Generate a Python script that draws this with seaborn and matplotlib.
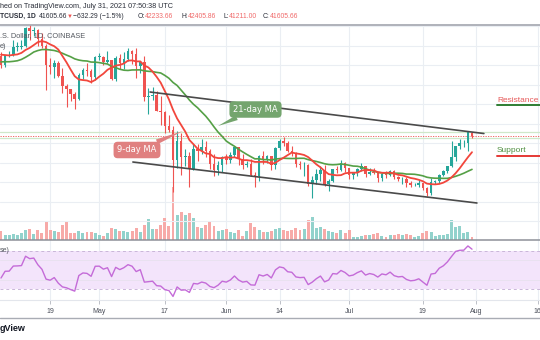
import numpy as np
import pandas as pd
import matplotlib
matplotlib.use("Agg")
import matplotlib.pyplot as plt
import matplotlib.dates as mdates
from matplotlib.lines import Line2D
import seaborn as sns

# ---------------- data (BTC/USD daily, Coinbase) ----------------
start_date = "2021-04-07"
opens = [58000, 56000, 58050, 58100, 59800, 59850, 59950, 63600, 62950, 63200, 61400, 60000,
         56150, 55650, 56450, 53800, 51700, 51150, 50050, 49050, 54000, 55050, 54850, 53550,
         57750, 57800, 56600, 57200, 53250, 57500, 56400, 57350, 58900, 58250, 55850, 56700,
         49500, 49700, 49900, 46750, 46450, 43550, 42850, 36700, 40600, 37300, 37450, 34700,
         38800, 38350, 39250, 38450, 35700, 34650, 35650,
         37300, 36700, 37550, 39200, 36850, 35520, 35800, 33550, 33400, 37400, 36700, 37350,
         35550, 39050, 40550, 40150, 38350, 38100, 35850, 35500, 35600, 31650, 32500, 33700,
         34650, 31600, 32250, 34700, 34500, 35900,
         35050, 33550, 33850, 34700, 35300, 33700, 34200, 33850, 32900, 33800, 33500, 34250,
         33100, 32700, 32800, 31850, 31400, 31500, 31800, 30850, 29800, 32150, 32300, 33600,
         34250, 35400, 37250, 39450, 40000, 40050, 42233.66]
highs = [58650, 58150, 58900, 61250, 60700, 61200, 63800, 64900, 63800, 63500, 62550, 60400,
         57500, 57100, 56800, 55450, 52150, 51200, 50550, 54400, 55500, 56400, 55200, 58000,
         58450, 57950, 58950, 57200, 57900, 58350, 58650, 59500, 59250, 59600, 56900, 58000,
         51350, 51550, 50700, 49800, 46550, 45800, 43550, 42550, 42200, 38850, 38300, 39900,
         39850, 40850, 40400, 38850, 37900, 36450, 37500,
         37900, 38250, 39500, 39300, 37900, 36450, 36800, 34050, 37550, 38400, 37700, 37450,
         39350, 41000, 41350, 40500, 39550, 38200, 36450, 36150, 35750, 33350, 34850, 35300,
         35500, 32700, 34700, 35300, 36600, 36100,
         35050, 33950, 34950, 35950, 35300, 35050, 35050, 33900, 34100, 34250, 34600, 34650,
         33350, 33100, 33200, 32250, 31950, 32450, 31900, 31050, 32850, 32600, 33650, 34500,
         35400, 40550, 39550, 40900, 40650, 42300, 42405.86]
lows = [55500, 55700, 57700, 57900, 59000, 59400, 59800, 61300, 62050, 60000, 59600, 50950,
        54200, 53400, 53600, 50400, 47500, 48800, 47000, 48850, 53300, 53900, 52350, 53050,
        57050, 56050, 56500, 53050, 52900, 55300, 55350, 56950, 56300, 53500, 54350, 48600,
        46000, 48850, 46650, 43850, 42100, 42300, 30000, 35050, 33500, 35300, 31100, 34550,
        36400, 37800, 37200, 34800, 33400, 33500, 34200,
        35700, 35950, 37200, 35600, 34800, 35250, 33350, 31000, 32400, 35800, 35950, 34600,
        34800, 38750, 39550, 38150, 37400, 35150, 34850, 33350, 31300, 28800, 31700, 32300,
        31300, 30150, 32050, 33900, 34250, 34050,
        32700, 32700, 33350, 34350, 33150, 33550, 33750, 32100, 32300, 33000, 33300, 32700,
        32250, 31600, 31150, 31050, 31200, 31150, 30400, 29300, 29500, 31700, 31950, 33350,
        33900, 35250, 36450, 38800, 39250, 38350, 41211.00]
closes = [56000, 58050, 58100, 59800, 59850, 59950, 63600, 62950, 63200, 61400, 60000, 56150,
          55650, 56450, 53800, 51700, 51150, 50050, 49050, 54000, 55050, 54850, 53550, 57750,
          57800, 56600, 57200, 53250, 57500, 56400, 57350, 58900, 58250, 55850, 56700, 49500,
          49700, 49900, 46750, 46450, 43550, 42850, 36700, 40600, 37300, 37450, 34700, 38800,
          38350, 39250, 38450, 35700, 34650, 35650, 37300,
          36700, 37550, 39200, 36850, 35520, 35800, 33550, 33400, 37400, 36700, 37350, 35550,
          39050, 40550, 40150, 38350, 38100, 35850, 35500, 35600, 31650, 32500, 33700, 34650,
          31600, 32250, 34700, 34500, 35900, 35050,
          33550, 33850, 34700, 35300, 33700, 34200, 33850, 32900, 33800, 33500, 34250, 33100,
          32700, 32800, 31850, 31400, 31500, 31800, 30850, 29800, 32150, 32300, 33600, 34250,
          35400, 37250, 39450, 40000, 40050, 42250, 41605.66]
volumes_k = [22.3, 12, 12, 15.1, 12, 16.1, 24, 26.4, 14.4, 24, 16.1, 43.9,
             24, 22.3, 19.2, 36, 46.3, 16.1, 17.5, 22.3, 17.5, 19.2, 18.5, 17.5,
             12, 9.6, 17.5, 28.1, 27.1, 21.6, 22.3, 19.2, 20.9, 28.1, 19.2, 35.3,
             49.7, 25.7, 27.1, 35.3, 52.1, 33.6, 127.2, 60, 67.9, 60, 65.5, 52.1,
             30.5, 29.5, 35.3, 43.9, 33.6, 22.3, 24,
             25.7, 19.9, 17.5, 24, 10.3, 22.3, 41.5, 30.5, 24, 19.9, 19.2, 22.3,
             25.7, 28.1, 24, 22.3, 24, 28.1, 24, 25.7, 48, 55.9, 28.1, 30.5,
             25.7, 22.3, 19.9, 17.5, 24, 16.1,
             24, 7.9, 7.9, 9.6, 12, 12, 14.4, 17.5, 9.6, 6.5, 12, 12,
             13.7, 12, 13.7, 12, 7.9, 10.3, 17.5, 22.3, 19.9, 10.3, 12, 12,
             13.7, 48, 30.5, 33.6, 16.1, 18.5, 6.5]
# closes of the 21 days before the first visible candle (moving-average warm-up)
warmup_closes = [58900, 57650, 58050, 58100, 57350, 54100, 54350, 52300, 51300, 55050, 55850,
                 55800, 57600, 58750, 58800, 58750, 59000, 57100, 58200, 59150, 58000]

tick_dates = ["2021-04-19", "2021-05-01", "2021-05-17", "2021-06-01", "2021-06-14",
              "2021-07-01", "2021-07-19", "2021-08-01", "2021-08-16"]
tick_labels = ["19", "May", "17", "Jun", "14", "Jul", "19", "Aug", "16"]

# channel trend lines (day offset from start_date, price)
upper_trend_days = [36.4, 117.9]
upper_trend_prices = [50540, 42030]
lower_trend_days = [32.2, 116.2]
lower_trend_prices = [36190, 27790]

last_close = 41605.66
day_high = 42405.86
day_low = 41211.00

# ---------------- derived ----------------
o = np.array(opens, float); h = np.array(highs, float)
l = np.array(lows, float); c = np.array(closes, float)
v = np.array(volumes_k, float)
n = len(c)
d0 = mdates.date2num(pd.Timestamp(start_date))
x = d0 + np.arange(n)

allc = pd.Series(warmup_closes + closes, dtype=float)
nw = len(warmup_closes)
sma9 = allc.rolling(9).mean().values[nw:]
sma21 = allc.rolling(21).mean().values[nw:]

# Wilder RSI(14)
delta = np.diff(allc.values)
gains = np.clip(delta, 0, None); losses = np.clip(-delta, 0, None)
ag = gains[:14].mean(); al = losses[:14].mean()
rsi_all = [np.nan] * 15
for i in range(14, len(delta)):
    ag = (ag * 13 + gains[i]) / 14
    al = (al * 13 + losses[i]) / 14
    rsi_all.append(100 - 100 / (1 + ag / al) if al > 0 else 100)
rsi = np.array(rsi_all)[nw:]

# ---------------- style ----------------
sns.set_style("white")
plt.rcParams['font.family'] = ['Liberation Sans', 'DejaVu Sans']

W, H = 540, 340
fig = plt.figure(figsize=(W / 100, H / 100), dpi=100)
fig.patch.set_facecolor("white")

def fy(ypx):
    return 1 - ypx / H

main_rect = [0, fy(240), 1, (240 - 25) / H]
rsi_rect = [0, fy(300), 1, (300 - 240) / H]

ax_vol = fig.add_axes(main_rect)
ax = fig.add_axes(main_rect, sharex=ax_vol)
ax.patch.set_alpha(0)
ax_rsi = fig.add_axes(rsi_rect, sharex=ax_vol)

xmin, xmax = d0 - 0.244, d0 + 131.6
grid_c = "#eaeef3"
tick_nums = [mdates.date2num(pd.Timestamp(t)) for t in tick_dates]

for a in (ax_vol, ax, ax_rsi):
    for s in a.spines.values():
        s.set_visible(False)
    a.set_xlim(xmin, xmax)

# volume
up = c >= o
vol_cols = np.where(up, "#92d2cc", "#f7aaa8")
for tx in tick_nums:
    ax_vol.axvline(tx, color=grid_c, lw=0.8, zorder=0)
ax_vol.bar(x, v, width=0.72, color=vol_cols, linewidth=0, zorder=2)
ax_vol.set_ylim(0, 516)
ax_vol.set_yticks([]); ax_vol.tick_params(bottom=False, labelbottom=False)

# price
ax.set_ylim(20203.66, 64278.7)
for p in range(24000, 64001, 4000):
    ax.axhline(p, color=grid_c, lw=0.8, zorder=0)
ax.axhline(day_high, color="#cfe8c9", lw=0.9, zorder=1)
ax.axhline(day_low, color="#cfe8c9", lw=0.9, zorder=1)
ax.axhline(last_close, color="#ef5350", lw=0.6, ls=(0, (1.5, 1.5)), zorder=1)

cand_cols = np.where(up, "#26a69a", "#ef5350")
ax.vlines(x, l, h, colors=cand_cols, lw=0.8, zorder=3)
body = np.maximum(np.abs(c - o), 90)
ax.bar(x, body, bottom=np.minimum(o, c), width=0.62, color=cand_cols, linewidth=0, zorder=4)

sns.lineplot(x=x, y=sma21, ax=ax, color="#55a046", lw=1.2, zorder=5)
sns.lineplot(x=x, y=sma9, ax=ax, color="#f2463c", lw=1.3, zorder=6)

ax.plot(d0 + np.array(upper_trend_days), upper_trend_prices, color="#4a4a4a", lw=1.2, zorder=7)
ax.plot(d0 + np.array(lower_trend_days), lower_trend_prices, color="#4a4a4a", lw=1.2, zorder=7)
ax.set_xticks([]); ax.set_yticks([])
ax.set_xlabel(""); ax.set_ylabel("")

# callouts
ax.annotate("21-day MA", xy=(218 / W, fy(126)), xycoords="figure fraction",
            xytext=(255.5 / W, fy(109.5)), textcoords="figure fraction",
            ha="center", va="center", fontsize=6, color="white", family="DejaVu Sans",
            bbox=dict(boxstyle="round,pad=0.45,rounding_size=0.5", fc="#74a56e", ec="none"),
            arrowprops=dict(arrowstyle="wedge,tail_width=0.6,shrink_factor=0.5", fc="#74a56e",
                            ec="none", shrinkA=0, shrinkB=0), zorder=10)
ax.annotate("9-day MA", xy=(183 / W, fy(131)), xycoords="figure fraction",
            xytext=(137 / W, fy(150)), textcoords="figure fraction",
            ha="center", va="center", fontsize=6, color="white", family="DejaVu Sans",
            bbox=dict(boxstyle="round,pad=0.45,rounding_size=0.5", fc="#e08080", ec="none"),
            arrowprops=dict(arrowstyle="wedge,tail_width=0.6,shrink_factor=0.5", fc="#e08080",
                            ec="none", shrinkA=0, shrinkB=0), zorder=10)

# Resistance / Support
fig.text(497 / W, fy(100), "Resistance", fontsize=6, color="#e65a5a", va="center", ha="left")
fig.add_artist(Line2D([497 / W, 1], [fy(104.5), fy(104.5)], color="#2e7d32", lw=1.4))
fig.text(497 / W, fy(150), "Support", fontsize=6, color="#4f8f40", va="center", ha="left")
fig.add_artist(Line2D([497 / W, 1], [fy(155.7), fy(155.7)], color="#e53935", lw=1.4))

# overlay legend text
fig.text(0, fy(35.7), ".S. Dollar, 1D, COINBASE", fontsize=5.3, color="#555960", va="center")
fig.text(0, fy(46.5), "e)", fontsize=5.3, color="#555960", va="center")

# RSI panel
for tx in tick_nums:
    ax_rsi.axvline(tx, color=grid_c, lw=0.8, zorder=0)
ax_rsi.axhspan(30, 70, color="#f3e4fb", zorder=0.5, lw=0)
for yv in (40, 60):
    ax_rsi.axhline(yv, color="#e9e1f0", lw=0.7, zorder=0.6)
for yv in (30, 70):
    ax_rsi.axhline(yv, color="#c9b6d8", lw=0.7, ls=(0, (3, 3)), zorder=0.7)
sns.lineplot(x=x, y=rsi, ax=ax_rsi, color="#c46bd8", lw=1.0, zorder=3)
ax_rsi.set_ylim(18.9, 81.1)
ax_rsi.set_yticks([])
ax_rsi.set_ylabel(""); ax_rsi.set_xlabel("")
ax_rsi.spines["bottom"].set_visible(True)
ax_rsi.spines["bottom"].set_color("#e3e6ec")
ax_rsi.spines["bottom"].set_linewidth(0.8)
ax_rsi.set_xticks(tick_nums)
ax_rsi.set_xticklabels(tick_labels)
ax_rsi.tick_params(axis="x", bottom=True, length=3, width=0.6, color="#b2b5be",
                   labelsize=5, labelcolor="#4a4e59", pad=2.5)
fig.text(0, fy(251), "se)", fontsize=5, color="#555960", va="center")

# separators
fig.add_artist(Line2D([0, 1], [fy(25), fy(25)], color="#a9acb4", lw=1.3))
fig.add_artist(Line2D([0, 1], [fy(240), fy(240)], color="#8e9199", lw=1.1))
fig.add_artist(Line2D([0, 1], [fy(318.3), fy(318.3)], color="#a9acb4", lw=1.0))

# header
fig.text(0, fy(7), "hed on TradingView.com, July 31, 2021 07:50:38 UTC", fontsize=5.2,
         color="#2a2e39", va="center")
dark = "#2a2e39"; red = "#ef5350"; lred = "#f06a6a"
segs = [(0, "TCUSD, 1D", dark, "bold"), (39, "41605.66", dark, "normal"),
        (66.5, "\u25bc", red, "normal"), (72.5, "\u2212632.29 (\u22121.5%)", dark, "normal"),
        (137.5, "O:", dark, "normal"), (145, "42233.66", lred, "normal"),
        (181, "H:", dark, "normal"), (188, "42405.86", lred, "normal"),
        (223, "L:", dark, "normal"), (228.5, "41211.00", lred, "normal"),
        (263, "C:", dark, "normal"), (270, "41605.66", lred, "normal")]
for xp, t, col, wt in segs:
    fs = 4.3 if t == "\u25bc" else 4.9
    fig.text(xp / W, fy(16.3), t, fontsize=fs, color=col, weight=wt, va="center", ha="left")

fig.text(0, fy(328.5), "gView", fontsize=6.5, weight="bold", color="#131722", va="center")

fig.savefig("out.png", dpi=100, facecolor="white")
